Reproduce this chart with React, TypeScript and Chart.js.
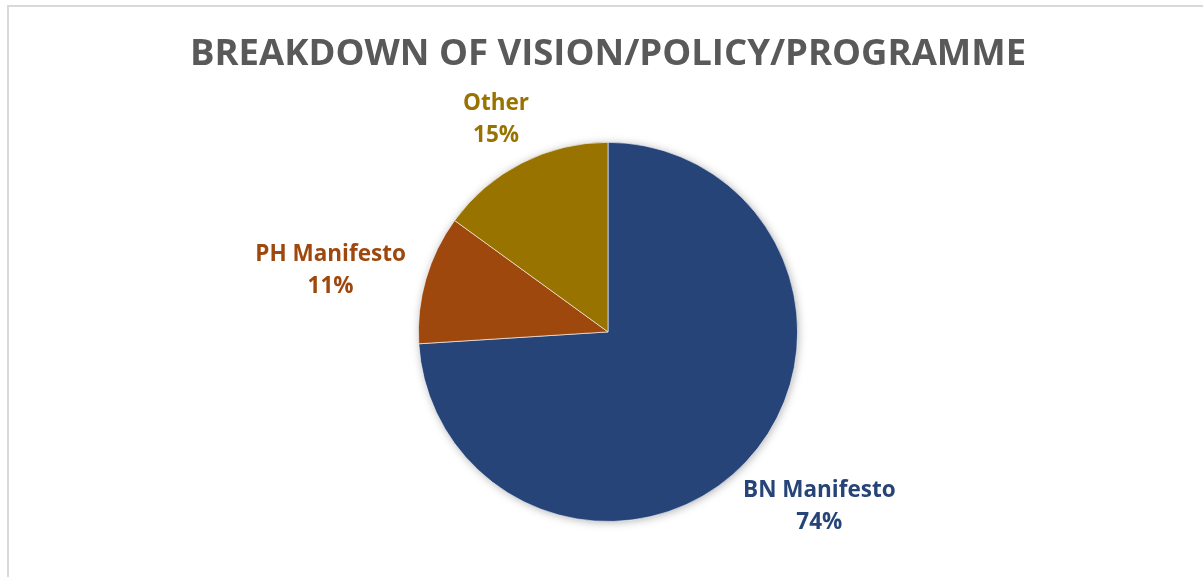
import React, { useEffect, useRef } from "react";
import { Chart, registerables } from "chart.js";

Chart.register(...registerables);

const TITLE = "BREAKDOWN OF VISION/POLICY/PROGRAMME";
const categories = ["BN Manifesto", "PH Manifesto", "Other"];
const values = [74, 11, 15];
const sliceColors = ["#264478", "#9E480E", "#997300"];

const LABEL_FONT = "bold 22.5px 'Open Sans'";
const LINE_GAP = 32;
const LABEL_GAP = 24;
const LABEL_DY = 7;

const shadowPlugin = {
  id: "pieShadow",
  beforeDatasetsDraw(chart: any) {
    const meta = chart.getDatasetMeta(0);
    const arc = meta.data[0];
    if (!arc) return;
    const { x, y, outerRadius } = arc.getProps(["x", "y", "outerRadius"], true);
    const ctx = chart.ctx;
    ctx.save();
    ctx.shadowColor = "rgba(0,0,0,0.35)";
    ctx.shadowBlur = 10;
    ctx.shadowOffsetX = 1;
    ctx.shadowOffsetY = 1;
    ctx.beginPath();
    ctx.arc(x, y, outerRadius - 1, 0, Math.PI * 2);
    ctx.fillStyle = "#ffffff";
    ctx.fill();
    ctx.restore();
  },
};

const labelPlugin = {
  id: "outsideLabels",
  afterDatasetsDraw(chart: any) {
    const ctx = chart.ctx;
    const meta = chart.getDatasetMeta(0);
    const data = chart.data.datasets[0].data as number[];
    const total = data.reduce((a, b) => a + b, 0);
    ctx.save();
    ctx.font = LABEL_FONT;
    ctx.textAlign = "center";
    ctx.textBaseline = "middle";
    meta.data.forEach((arc: any, i: number) => {
      const { x, y, startAngle, endAngle, outerRadius } = arc.getProps(
        ["x", "y", "startAngle", "endAngle", "outerRadius"],
        true
      );
      const mid = (startAngle + endAngle) / 2;
      const lines = [
        String(chart.data.labels[i]),
        Math.round((data[i] / total) * 100) + "%",
      ];
      const w = Math.max(...lines.map((l) => ctx.measureText(l).width));
      const h = LINE_GAP * 2;
      const c = Math.cos(mid);
      const s = Math.sin(mid);
      const cx = x + c * (outerRadius + LABEL_GAP) + c * (w / 2);
      const cy = y + s * (outerRadius + LABEL_GAP) + s * (h / 2) + LABEL_DY;
      ctx.fillStyle = sliceColors[i];
      ctx.fillText(lines[0], cx, cy - LINE_GAP / 2);
      ctx.fillText(lines[1], cx, cy + LINE_GAP / 2);
    });
    ctx.restore();
  },
};

export default function App() {
  const ref = useRef<HTMLCanvasElement | null>(null);
  useEffect(() => {
    if (!ref.current) return;
    const chart = new Chart(ref.current, {
      type: "pie",
      data: {
        labels: categories,
        datasets: [
          {
            data: values,
            backgroundColor: sliceColors,
            borderColor: "rgba(255,255,255,0.6)",
            borderWidth: 1,
            hoverOffset: 0,
          },
        ],
      },
      options: {
        responsive: false,
        animation: false,
        events: [],
        layout: { padding: { top: 0, bottom: 55, left: 13, right: 0 } },
        plugins: {
          legend: { display: false },
          tooltip: { enabled: false },
          title: {
            display: true,
            text: TITLE,
            color: "#595959",
            font: { family: "'Open Sans'", size: 36.5, weight: "bold" },
            padding: { top: 33, bottom: 65 },
          },
        },
      },
      plugins: [shadowPlugin, labelPlugin],
    });
    return () => chart.destroy();
  }, []);

  return (
    <div style={{ position: "fixed", left: 0, top: 0, width: 1203, height: 577, overflow: "hidden", background: "#fff" }}>
      <div
        style={{
          position: "absolute",
          left: 7,
          top: 5,
          right: 0,
          bottom: 0,
          borderLeft: "2px solid #d9d9d9",
          borderTop: "2px solid #d9d9d9",
        }}
      />
      <canvas ref={ref} width={1203} height={577} style={{ position: "absolute", left: 0, top: 0 }} />
    </div>
  );
}
